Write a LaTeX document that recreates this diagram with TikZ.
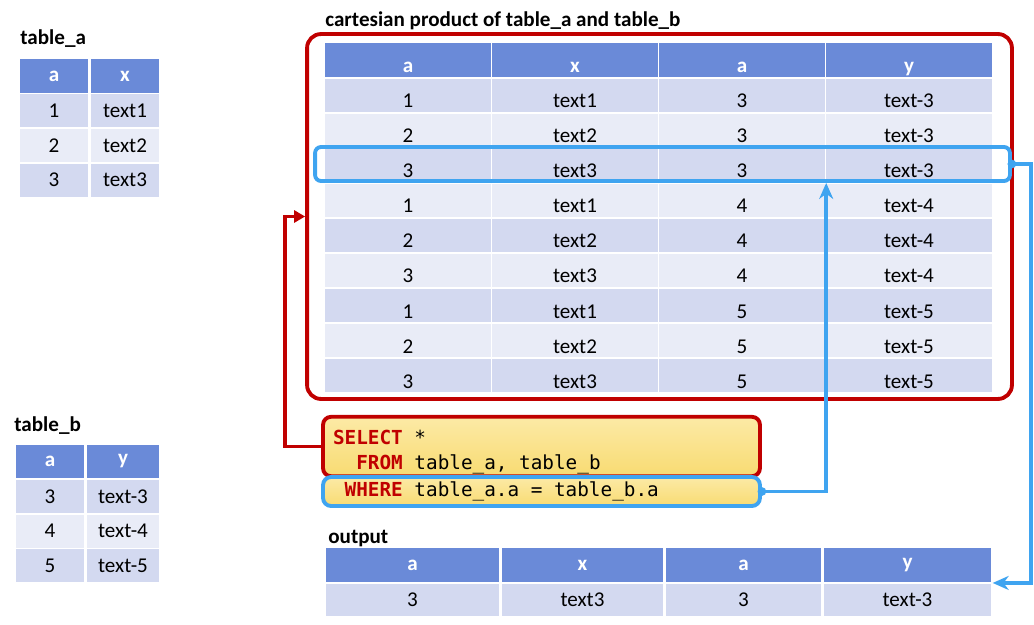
\documentclass[tikz,border=0pt]{standalone}
\usepackage{fontspec}
\setmainfont{Carlito}
\setmonofont{DejaVu Sans Mono}
\usetikzlibrary{arrows.meta}

\definecolor{hdblue}{HTML}{6A8AD8}
\definecolor{rowdark}{HTML}{D3D9F0}
\definecolor{rowlight}{HTML}{E9ECF7}
\definecolor{sqlred}{HTML}{C00000}
\definecolor{selblue}{HTML}{3FA4F0}
\definecolor{codetop}{HTML}{FCEAA6}
\definecolor{codebot}{HTML}{F8DB72}

\newcommand{\kw}[1]{\textcolor{sqlred}{\textbf{#1}}}
\newcommand{\ws}{\hspace{0.602em}}

\begin{document}
\begin{tikzpicture}[x=0.02cm, y=-0.02cm, every node/.style={font=\fontsize{12}{14}\selectfont},
  cell/.style={draw=white, line width=0.8pt, minimum height=0.69cm, inner sep=0pt},
  hd/.style={cell, fill=hdblue, text=white, font=\fontsize{12}{14}\selectfont\bfseries},
  dk/.style={cell, fill=rowdark},
  lt/.style={cell, fill=rowlight},
  low/.style={text height=0.5cm, text depth=0pt},
  ttl/.style={anchor=base west, inner sep=0pt, font=\fontsize{12}{14}\selectfont\bfseries},
  codebox/.style={line width=2.2pt, rounded corners=0.16cm, top color=codetop, bottom color=codebot,
    align=left, inner xsep=0.2cm, inner ysep=1pt, font=\ttfamily\fontsize{11}{14.2}\selectfont},
  redline/.style={draw=sqlred, line width=2.2pt},
  blueline/.style={draw=selblue, line width=2pt}]
  \useasboundingbox (0,0) rectangle (1034,625);

  % table_a
  \node[ttl] (ta) at (20,45) {table\_a};
  \node[hd, minimum width=1.4cm] (taa) at (54,76) {a};
  \node[hd, minimum width=1.4cm] (tax) at (125,76) {x};
  \foreach \v/\t/\s [count=\i] in {1/text1/dk, 2/text2/lt, 3/text3/dk} {
    \node[\s, minimum width=1.4cm] (ta\i a) at (54,76+34.7*\i) {\v};
    \node[\s, minimum width=1.4cm] (ta\i x) at (125,76+34.7*\i) {\t};
  }

  % table_b
  \node[ttl] (tb) at (14,431) {table\_b};
  \node[hd, minimum width=1.4cm] (tba) at (50,461.5) {a};
  \node[hd, minimum width=1.48cm] (tby) at (123,461.5) {y};
  \foreach \v/\t/\s [count=\i] in {3/text-3/dk, 4/text-4/lt, 5/text-5/dk} {
    \node[\s, minimum width=1.4cm] (tb\i a) at (50,461.5+34.8*\i) {\v};
    \node[\s, minimum width=1.48cm] (tb\i y) at (123,461.5+34.8*\i) {\t};
  }

  % cartesian product
  \node[ttl] (cpt) at (325,27) {cartesian product of table\_a and table\_b};
  \node[draw=sqlred, line width=2.2pt, rounded corners=0.28cm, minimum width=14.1cm, minimum height=7.3cm] (cp) at (659.5,216.5) {};
  \node[hd, low, minimum width=3.34cm] (h1) at (408,60) {a};
  \node[hd, low, minimum width=3.34cm] (h2) at (575,60) {x};
  \node[hd, low, minimum width=3.34cm] (h3) at (742,60) {a};
  \node[hd, low, minimum width=3.34cm] (h4) at (909,60) {y};
  \foreach \p/\q/\r/\u/\s [count=\i] in {1/text1/3/text-3/dk, 2/text2/3/text-3/lt, 3/text3/3/text-3/dk,
      1/text1/4/text-4/lt, 2/text2/4/text-4/dk, 3/text3/4/text-4/lt,
      1/text1/5/text-5/dk, 2/text2/5/text-5/lt, 3/text3/5/text-5/dk} {
    \node[\s, low, minimum width=3.34cm] (r\i a) at (408,60.5+35*\i) {\p};
    \node[\s, low, minimum width=3.34cm] (r\i x) at (575,60.5+35*\i) {\q};
    \node[\s, low, minimum width=3.34cm] (r\i b) at (742,60.5+35*\i) {\r};
    \node[\s, low, minimum width=3.34cm] (r\i y) at (909,60.5+35*\i) {\u};
  }
  \node[draw=selblue, line width=2.2pt, rounded corners=0.12cm, minimum width=13.9cm, minimum height=0.68cm] (hl) at (662.5,164) {};

  % query
  \node[codebox, draw=sqlred, minimum width=8.74cm, minimum height=1.1cm, text width=8.34cm] (sql) at (541.5,446.5)
    {\rule{0pt}{15pt}\kw{SELECT}\ws*\\\ws\ws\kw{FROM}\ws table\_a,\ws table\_b};
  \node[codebox, draw=selblue, minimum width=8.74cm, minimum height=0.58cm, text width=8.34cm] (wh) at (541.5,491.5)
    {\ws\kw{WHERE}\ws table\_a.a\ws=\ws table\_b.a};

  % output
  \node[ttl] (ot) at (328,543) {output};
  \node[hd, minimum width=3.5cm] (oa) at (412.5,565) {a};
  \node[hd, minimum width=3.26cm] (ox) at (582.5,565) {x};
  \node[hd, minimum width=3.14cm] (ob) at (743.5,565) {a};
  \node[hd, minimum width=3.38cm] (oy) at (907.5,565) {y};
  \node[dk, minimum width=3.5cm, minimum height=0.66cm] (o1a) at (412.5,600) {3};
  \node[dk, minimum width=3.26cm, minimum height=0.66cm] (o1x) at (582.5,600) {text3};
  \node[dk, minimum width=3.14cm, minimum height=0.66cm] (o1b) at (743.5,600) {3};
  \node[dk, minimum width=3.38cm, minimum height=0.66cm] (o1y) at (907.5,600) {text-3};

  % arrows
  \draw[redline, -{Triangle[length=0.22cm, width=0.24cm]}] (sql.west) -- ++(-36,0) |- (cp.west);
  \draw[blueline, {Circle[length=0.17cm]}-{Stealth[length=0.32cm, width=0.28cm]}, shorten <=-0.085cm] (hl.east) -- ++(19,0) |- (oy.south east);
  \draw[blueline, {Circle[length=0.17cm]}-{Stealth[length=0.32cm, width=0.28cm]}, shorten <=-0.085cm] (wh.east) -| (hl.south -| h3.east);
\end{tikzpicture}
\end{document}
